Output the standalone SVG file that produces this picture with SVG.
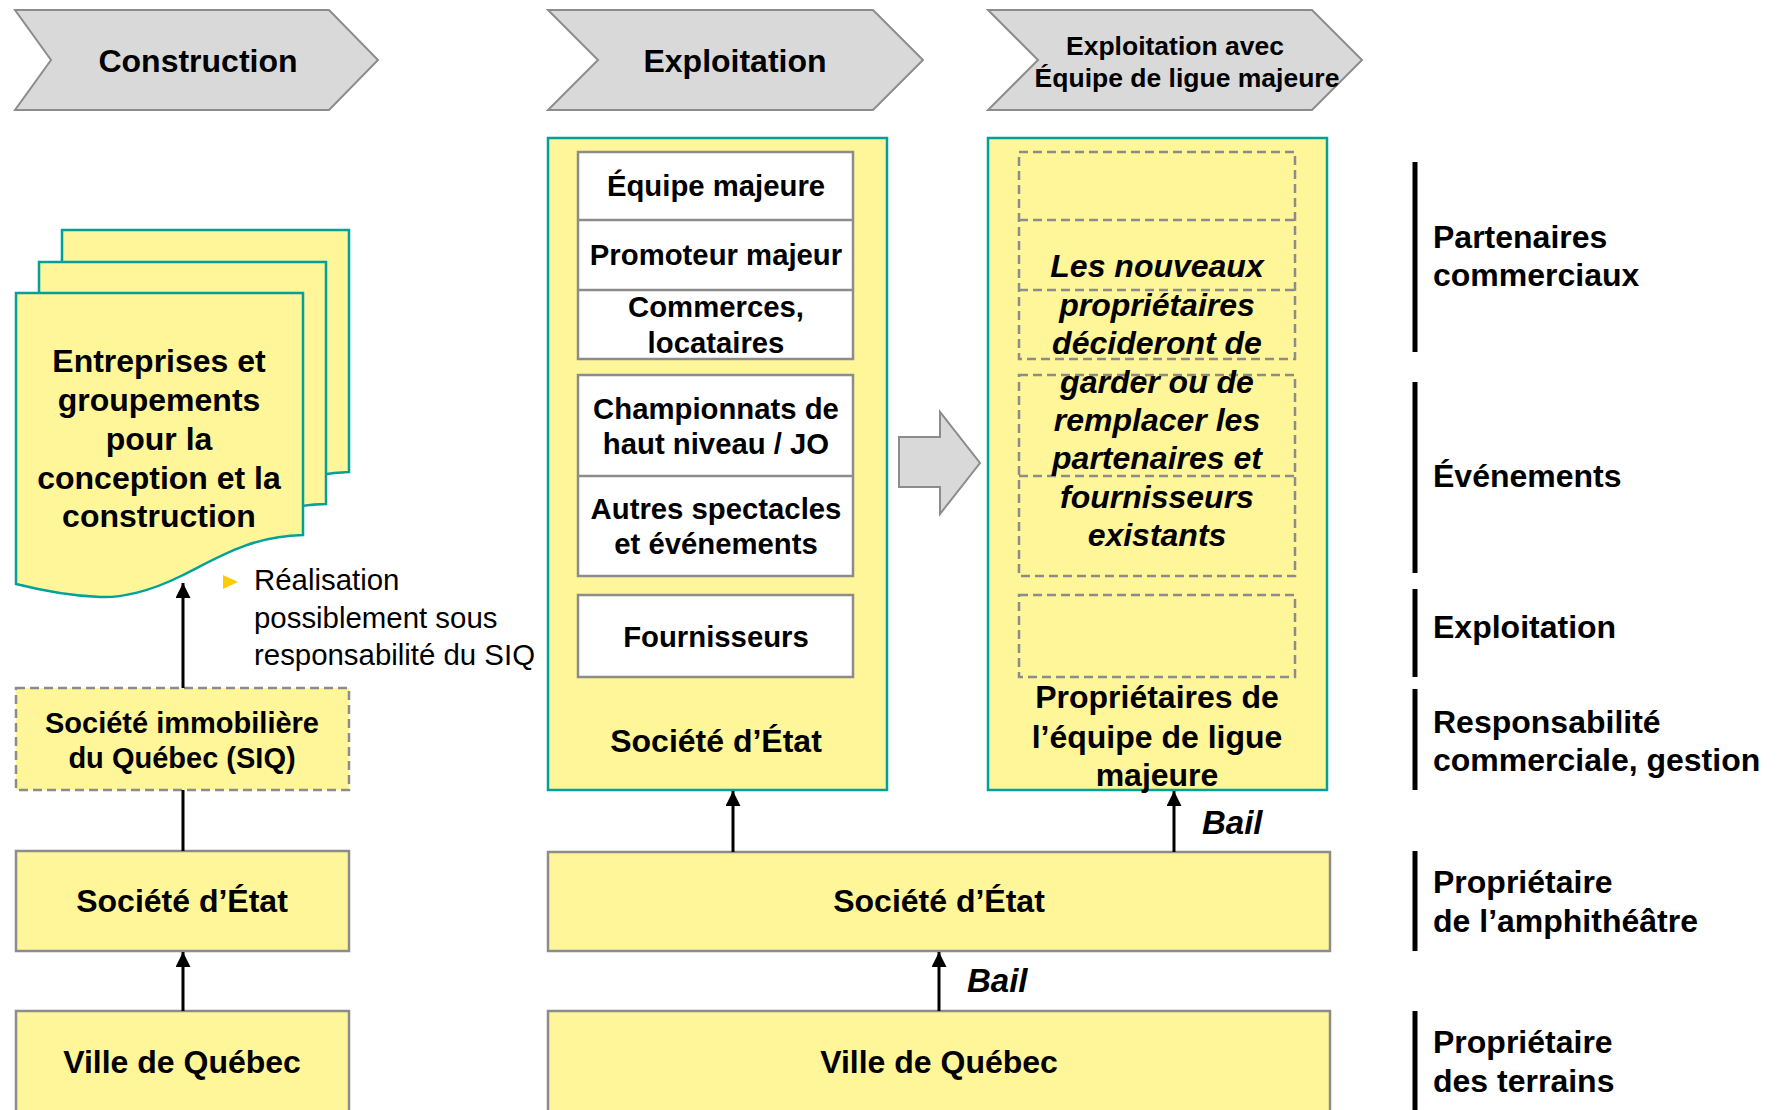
<svg xmlns="http://www.w3.org/2000/svg" width="1777" height="1110" viewBox="0 0 1777 1110">
<defs>
<style>
.chev{fill:#D9D9D9;stroke:#8C8C8C;stroke-width:2}
.yb{fill:#FFF599;stroke:#00A19A;stroke-width:2.5}
.yg{fill:#FFF599;stroke:#8C8C8C;stroke-width:2.5}
.wb{fill:#FFFFFF;stroke:#8C8C8C;stroke-width:2.5}
.dl{fill:none;stroke:#8C8C8C;stroke-width:2.5;stroke-dasharray:9 5}
.sl{fill:none;stroke:#8C8C8C;stroke-width:2.5}
.t{font-family:"Liberation Sans",Arial,sans-serif;font-weight:bold;fill:#000;text-anchor:middle}
.tl{font-family:"Liberation Sans",Arial,sans-serif;font-weight:bold;fill:#000;font-size:32px}
.ti{font-family:"Liberation Sans",Arial,sans-serif;font-weight:bold;font-style:italic;fill:#000}
.tr{font-family:"Liberation Sans",Arial,sans-serif;fill:#000;font-size:29.4px}
.conn{stroke:#000;stroke-width:3;fill:none}
.bar{stroke:#000;stroke-width:5}
</style>
<marker id="ah" viewBox="0 0 10 10" refX="10" refY="5" markerWidth="17" markerHeight="15" orient="auto" markerUnits="userSpaceOnUse">
<path d="M0,0 L10,5 L0,10 z" fill="#000"/>
</marker>
<path id="page" d="M0,0 H287 V242 C233,243 198,267 165,283 C133,299 104,305 84,304 C54,303 24,297 0,291 Z"/>
</defs>

<g id="header-construction">
<polygon class="chev" points="15,10 329,10 378,60 329,110 15,110 51,60"/>
<text class="t" x="198" y="72" font-size="32">Construction</text>
</g>
<g id="header-exploitation">
<polygon class="chev" points="548,10 873,10 923,60 873,110 548,110 598,60"/>
<text class="t" x="735" y="72" font-size="32">Exploitation</text>
</g>
<g id="header-exploitation-equipe">
<polygon class="chev" points="988,10 1312,10 1362,60 1312,110 988,110 1038,60"/>
<text class="t" x="1175" y="55" font-size="26.5">Exploitation avec</text>
<text class="t" x="1187" y="87" font-size="26.5">Équipe de ligue majeure</text>
</g>

<g id="entreprises">
<use href="#page" class="yb" transform="translate(62,230)"/>
<use href="#page" class="yb" transform="translate(39,262)"/>
<use href="#page" class="yb" transform="translate(16,293)"/>
<text class="t" x="159" y="372" font-size="32">Entreprises et</text>
<text class="t" x="159" y="411" font-size="32">groupements</text>
<text class="t" x="159" y="450" font-size="32">pour la</text>
<text class="t" x="159" y="489" font-size="32">conception et la</text>
<text class="t" x="159" y="527" font-size="32">construction</text>
</g>

<g id="note-realisation">
<polygon points="223,575 238,582 223,589" fill="#FFCC00"/>
<text class="tr" x="254" y="590">Réalisation</text>
<text class="tr" x="254" y="628">possiblement sous</text>
<text class="tr" x="254" y="665">responsabilité du SIQ</text>
</g>

<g id="siq">
<rect x="16" y="688" width="333" height="102" fill="#FFF599"/>
<rect x="16" y="688" width="333" height="102" class="dl"/>
<text class="t" x="182" y="733" font-size="29">Société immobilière</text>
<text class="t" x="182" y="768" font-size="29">du Québec (SIQ)</text>
</g>

<g id="societe-etat-construction">
<rect x="16" y="851" width="333" height="100" class="yg"/>
<text class="t" x="182" y="912" font-size="32">Société d’État</text>
</g>

<g id="ville-construction">
<rect x="16" y="1011" width="333" height="115" class="yg"/>
<text class="t" x="182" y="1073" font-size="32">Ville de Québec</text>
</g>

<g id="exploitation-container">
<rect x="548" y="138" width="339" height="652" class="yb"/>
<rect x="578" y="152" width="275" height="207" class="wb"/>
<line x1="578" y1="220" x2="853" y2="220" class="sl"/>
<line x1="578" y1="290" x2="853" y2="290" class="sl"/>
<rect x="578" y="375" width="275" height="201" class="wb"/>
<line x1="578" y1="476" x2="853" y2="476" class="sl"/>
<rect x="578" y="595" width="275" height="82" class="wb"/>
<text class="t" x="716" y="196" font-size="29.3">Équipe majeure</text>
<text class="t" x="716" y="265" font-size="29.3">Promoteur majeur</text>
<text class="t" x="716" y="317" font-size="29.3">Commerces,</text>
<text class="t" x="716" y="353" font-size="29.3">locataires</text>
<text class="t" x="716" y="419" font-size="29.3">Championnats de</text>
<text class="t" x="716" y="454" font-size="29.3">haut niveau / JO</text>
<text class="t" x="716" y="519" font-size="29.3">Autres spectacles</text>
<text class="t" x="716" y="554" font-size="29.3">et événements</text>
<text class="t" x="716" y="647" font-size="29.3">Fournisseurs</text>
<text class="t" x="716" y="752" font-size="32">Société d’État</text>
</g>

<g id="transition-arrow">
<polygon points="899,437 940,437 940,412 980,463 940,514 940,487 899,487" class="chev"/>
</g>

<g id="equipe-container">
<rect x="988" y="138" width="339" height="652" class="yb"/>
<rect x="1019" y="152" width="276" height="207" class="dl"/>
<line x1="1019" y1="220" x2="1295" y2="220" class="dl"/>
<line x1="1019" y1="290" x2="1295" y2="290" class="dl"/>
<rect x="1019" y="375" width="276" height="201" class="dl"/>
<line x1="1019" y1="476" x2="1295" y2="476" class="dl"/>
<rect x="1019" y="595" width="276" height="82" class="dl"/>
<text class="ti" text-anchor="middle" x="1157" y="277" font-size="32">Les nouveaux</text>
<text class="ti" text-anchor="middle" x="1157" y="315.5" font-size="32">propriétaires</text>
<text class="ti" text-anchor="middle" x="1157" y="353.5" font-size="32">décideront de</text>
<text class="ti" text-anchor="middle" x="1157" y="392.5" font-size="32">garder ou de</text>
<text class="ti" text-anchor="middle" x="1157" y="431" font-size="32">remplacer les</text>
<text class="ti" text-anchor="middle" x="1157" y="469" font-size="32">partenaires et</text>
<text class="ti" text-anchor="middle" x="1157" y="507.5" font-size="32">fournisseurs</text>
<text class="ti" text-anchor="middle" x="1157" y="546" font-size="32">existants</text>
<text class="t" x="1157" y="707.5" font-size="32">Propriétaires de</text>
<text class="t" x="1157" y="747.5" font-size="32">l’équipe de ligue</text>
<text class="t" x="1157" y="785.5" font-size="32">majeure</text>
</g>

<g id="societe-etat-exploitation">
<rect x="548" y="852" width="782" height="99" class="yg"/>
<text class="t" x="939" y="912" font-size="32">Société d’État</text>
</g>

<g id="ville-exploitation">
<rect x="548" y="1011" width="782" height="115" class="yg"/>
<text class="t" x="939" y="1073" font-size="32">Ville de Québec</text>
</g>

<g id="connectors">
<line x1="183" y1="688" x2="183" y2="583" class="conn" marker-end="url(#ah)"/>
<line x1="183" y1="790" x2="183" y2="851" class="conn"/>
<line x1="183" y1="1011" x2="183" y2="952" class="conn" marker-end="url(#ah)"/>
<line x1="733" y1="852" x2="733" y2="791" class="conn" marker-end="url(#ah)"/>
<line x1="1174" y1="852" x2="1174" y2="791" class="conn" marker-end="url(#ah)"/>
<line x1="939" y1="1011" x2="939" y2="952" class="conn" marker-end="url(#ah)"/>
<text class="ti" x="1202" y="834" font-size="33">Bail</text>
<text class="ti" x="967" y="992" font-size="33">Bail</text>
</g>

<g id="row-labels">
<line x1="1415" y1="162" x2="1415" y2="352" class="bar"/>
<line x1="1415" y1="382" x2="1415" y2="573" class="bar"/>
<line x1="1415" y1="589" x2="1415" y2="677" class="bar"/>
<line x1="1415" y1="689" x2="1415" y2="790" class="bar"/>
<line x1="1415" y1="851" x2="1415" y2="951" class="bar"/>
<line x1="1415" y1="1011" x2="1415" y2="1110" class="bar"/>
<text class="tl" x="1433" y="248">Partenaires</text>
<text class="tl" x="1433" y="286">commerciaux</text>
<text class="tl" x="1433" y="487">Événements</text>
<text class="tl" x="1433" y="638">Exploitation</text>
<text class="tl" x="1433" y="733">Responsabilité</text>
<text class="tl" x="1433" y="771">commerciale, gestion</text>
<text class="tl" x="1433" y="893">Propriétaire</text>
<text class="tl" x="1433" y="932">de l’amphithéâtre</text>
<text class="tl" x="1433" y="1053">Propriétaire</text>
<text class="tl" x="1433" y="1092">des terrains</text>
</g>
</svg>
